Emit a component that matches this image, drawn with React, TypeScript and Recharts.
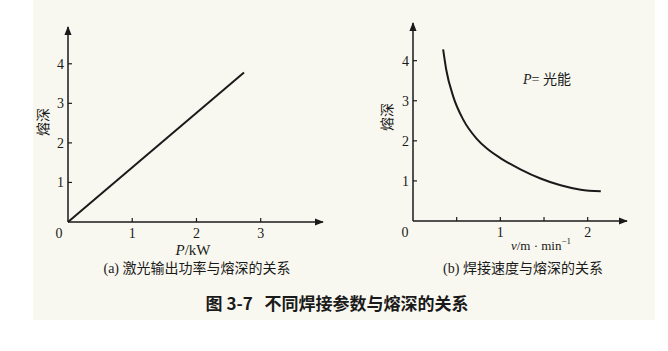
import React from 'react';
import { LineChart, Line, XAxis, YAxis } from 'recharts';

// (a) laser output power vs. penetration depth
const powerKW = [0, 2.74];
const depthByPower = [0, 3.78];
const powerTicks = [0, 1, 2, 3];
const depthTicksA = [1, 2, 3, 4];

// (b) welding speed vs. penetration depth
const speed = [0.345, 0.38, 0.46, 0.575, 0.73, 0.85, 1.0, 1.23, 1.46, 1.69, 1.92, 2.15];
const depthBySpeed = [4.28, 3.78, 3.11, 2.53, 2.05, 1.8, 1.57, 1.29, 1.06, 0.89, 0.78, 0.74];
const speedTicks = [0, 0.5, 1, 1.5, 2];
const depthTicksB = [1, 2, 3, 4];

const dataA = powerKW.map((p, i) => ({ p, d: depthByPower[i] }));
const dataB = speed.map((v, i) => ({ v, d: depthBySpeed[i] }));

const INK = '#1a1a1a';
const NUM_FONT = '"Liberation Serif", serif';
const CJK_FONT = '"Noto Sans CJK SC", sans-serif';

const XTick = ({ x, y, payload, zeroDx }: any) => {
  const v = payload.value;
  const labelled = Number.isInteger(v);
  return (
    <g>
      {v !== 0 && <line x1={x} y1={y} x2={x} y2={y - 4} stroke={INK} strokeWidth={1.2} />}
      {labelled && (
        <text
          x={v === 0 ? x + zeroDx : x}
          y={y + 16}
          textAnchor="middle"
          fill={INK}
          fontSize={14}
          fontFamily={NUM_FONT}
        >
          {v}
        </text>
      )}
    </g>
  );
};

const YTick = ({ x, y, payload }: any) => (
  <g>
    <line x1={x} y1={y} x2={x + 4} y2={y} stroke={INK} strokeWidth={1.2} />
    <text x={x - 4} y={y + 5} textAnchor="end" fill={INK} fontSize={14} fontFamily={NUM_FONT}>
      {payload.value}
    </text>
  </g>
);

const axisStyle = { stroke: INK, strokeWidth: 1.5 };

export default function App() {
  return (
    <div style={{ position: 'absolute', left: 0, top: 0, width: 668, height: 351, background: '#fff', overflow: 'hidden' }}>
      <div style={{ position: 'absolute', left: 33, top: 0, width: 622, height: 320, background: '#f9f8f0' }} />
      <svg width={0} height={0} style={{ position: 'absolute' }}>
        <defs>
          <marker id="arrow" viewBox="0 0 10 10" refX="9" refY="5" markerWidth="6" markerHeight="6" orient="auto-start-reverse">
            <path d="M0,1 L10,5 L0,9 z" fill={INK} />
          </marker>
        </defs>
      </svg>

      <div style={{ position: 'absolute', left: 0, top: 0 }}>
        <LineChart width={340} height={290} data={dataA} margin={{ top: 27, left: 38, right: 17, bottom: 38 }}>
          <XAxis
            dataKey="p"
            type="number"
            domain={[0, 3.97]}
            ticks={powerTicks}
            height={30}
            tickSize={0}
            tickMargin={0}
            tickLine={false}
            axisLine={{ ...axisStyle, markerEnd: 'url(#arrow)' }}
            tick={<XTick zeroDx={-9} />}
            interval={0}
          />
          <YAxis
            dataKey="d"
            type="number"
            domain={[0, 4.93]}
            ticks={depthTicksA}
            width={30}
            tickSize={0}
            tickMargin={0}
            tickLine={false}
            axisLine={{ ...axisStyle, markerStart: 'url(#arrow)' }}
            tick={<YTick />}
            interval={0}
          />
          <Line type="linear" dataKey="d" stroke={INK} strokeWidth={2} dot={false} isAnimationActive={false} />
        </LineChart>
      </div>

      <div style={{ position: 'absolute', left: 340, top: 0 }}>
        <LineChart width={328} height={290} data={dataB} margin={{ top: 23, left: 43, right: 41, bottom: 39 }}>
          <XAxis
            dataKey="v"
            type="number"
            domain={[0, 2.45]}
            ticks={speedTicks}
            height={30}
            tickSize={0}
            tickMargin={0}
            tickLine={false}
            axisLine={{ ...axisStyle, markerEnd: 'url(#arrow)' }}
            tick={<XTick zeroDx={-8} />}
            interval={0}
          />
          <YAxis
            dataKey="d"
            type="number"
            domain={[0, 4.94]}
            ticks={depthTicksB}
            width={30}
            tickSize={0}
            tickMargin={0}
            tickLine={false}
            axisLine={{ ...axisStyle, markerStart: 'url(#arrow)' }}
            tick={<YTick />}
            interval={0}
          />
          <Line type="monotone" dataKey="d" stroke={INK} strokeWidth={2} dot={false} isAnimationActive={false} />
        </LineChart>
      </div>

      <svg width={668} height={351} style={{ position: 'absolute', left: 0, top: 0, pointerEvents: 'none' }}>
        <g fill={INK}>
          <text x={44} y={122} transform="rotate(-90 44 122)" textAnchor="middle" fontSize={14} fontFamily={CJK_FONT} dominantBaseline="middle">熔深</text>
          <text x={193} y={255} textAnchor="middle" fontSize={15} fontFamily={NUM_FONT}>
            <tspan fontStyle="italic">P</tspan>/kW
          </text>
          <text x={197} y={273} textAnchor="middle" fontSize={14} fontFamily={CJK_FONT}>
            <tspan fontFamily={NUM_FONT}>(a) </tspan>激光输出功率与熔深的关系
          </text>

          <text x={388} y={117} transform="rotate(-90 388 117)" textAnchor="middle" fontSize={14} fontFamily={CJK_FONT} dominantBaseline="middle">熔深</text>
          <text x={523} y={84} fontSize={14} fontFamily={CJK_FONT}>
            <tspan fontFamily={NUM_FONT} fontStyle="italic">P</tspan>
            <tspan fontFamily={NUM_FONT}>= </tspan>光能
          </text>
          <text x={541} y={250} textAnchor="middle" fontSize={13} fontFamily={NUM_FONT}>
            <tspan fontStyle="italic">v</tspan>/m · min<tspan fontSize={9} dy={-6}>−1</tspan>
          </text>
          <text x={523} y={273} textAnchor="middle" fontSize={14} fontFamily={CJK_FONT}>
            <tspan fontFamily={NUM_FONT}>(b) </tspan>焊接速度与熔深的关系
          </text>

          <text x={337} y={310} textAnchor="middle" fontSize={17} fontWeight="bold" fontFamily={CJK_FONT}>
            图 3-7{'\u00a0\u00a0\u00a0'}不同焊接参数与熔深的关系
          </text>
        </g>
      </svg>
    </div>
  );
}
